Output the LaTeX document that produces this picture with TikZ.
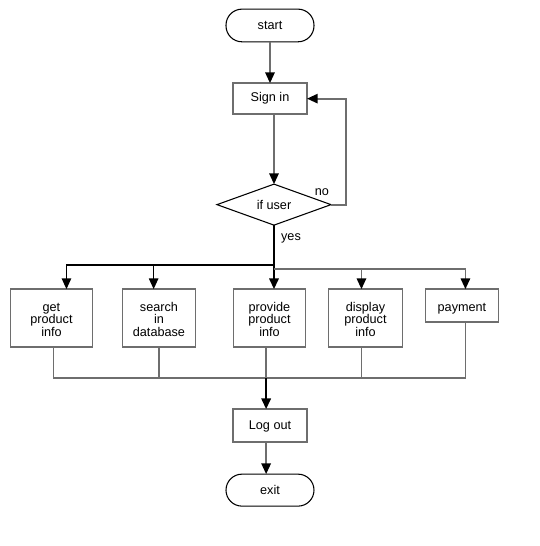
\documentclass[tikz,border=0pt]{standalone}
\usepackage{fontspec}
\setmainfont{Liberation Sans}
\usepackage{xcolor}
\usepackage{tikz}
\usetikzlibrary{arrows.meta,positioning,shapes.geometric}
\definecolor{linegray}{HTML}{6E6E6E}

\begin{document}
\lineskiplimit=-6pt
\begin{tikzpicture}[
  font={\fontsize{9.5pt}{9.2pt}\selectfont\lineskiplimit=-6pt},
  every node/.style={outer sep=0pt},
  term/.style={draw=black,line width=0.8pt,rounded corners=12pt,minimum width=66pt,minimum height=24.5pt},
  proc/.style={draw=linegray,line width=1.3pt,align=center,minimum width=55.5pt,minimum height=23.25pt},
  tallproc/.style={proc,minimum height=43.5pt,text height=27pt,text depth=0pt},
  decision/.style={diamond,draw=black,line width=0.8pt,aspect=2.8,inner sep=0pt,minimum width=85.5pt,minimum height=30.75pt},
  lbl/.style={inner sep=0pt},
  arr/.style={-{Triangle[length=8pt,width=7pt,color=black]}},
  flow/.style={draw=linegray,line width=1.3pt},
  yes/.style={draw=black,line width=1.6pt},
  yesthin/.style={draw=black,line width=1.1pt}
]
\path[fill=white,use as bounding box] (-202.5pt,19.1pt) rectangle (201.75pt,-390.4pt);

\node[term] (start) at (0,0) {start};
\node[proc,below=31pt of start] (signin) {Sign in};
\node[decision,below=52.5pt of signin,xshift=3pt] (ifuser) {if user};
\node[tallproc,minimum width=54pt,below=48pt of ifuser,xshift=-3.4pt] (provide) {provide\\product\\info};
\node[tallproc,minimum width=54.75pt,left=28.5pt of provide] (search) {search\\in\\database};
\node[tallproc,minimum width=61.5pt,left=22.5pt of search] (get) {get\\product\\info};
\node[tallproc,right=17.25pt of provide] (display) {display\\product\\info};
\node[proc,minimum width=54.75pt,minimum height=24.75pt,text height=9pt,text depth=0pt,right=17.25pt of display.north east,anchor=north west] (payment) {payment};
\node[proc,minimum height=24.75pt,text depth=0pt,below=46.5pt of provide,xshift=0.4pt] (logout) {Log out};
\node[term,minimum height=24pt,below=24pt of logout] (exit) {exit};

\node[lbl] (nolbl) at ([shift={(-6.75pt,9pt)}]ifuser.east) {no};
\node[lbl] (yeslbl) at ([shift={(12.75pt,-10pt)}]ifuser.south) {yes};

% sign in and the loop back
\draw[flow,arr] (start) -- (signin);
\draw[flow,arr] (ifuser.north |- signin.south) -- (ifuser);
\draw[flow,arr] (ifuser.east) -- ++(11.25pt,0) |- (signin.east);

% yes branch
\path (ifuser.south) ++(0,-30pt) coordinate (busl) ++(0,-3pt) coordinate (busr);
\draw[yes,arr] (ifuser.south) -- (ifuser.south |- provide.north);
\draw[yesthin,arr] (busl) -| ([xshift=11.25pt]get.north);
\draw[yesthin,arr] (busl) -| ([xshift=-4pt]search.north);
\draw[flow,arr] (busr) -| ([xshift=-3pt]display.north);
\draw[flow,arr] (busr) -| ([xshift=2.6pt]payment.north);

% join to log out
\path (provide.south) ++(-2.5pt,-23.25pt) coordinate (busb);
\draw[flow] ([xshift=1.5pt]get.south) |- (busb);
\draw[flow] (search.south) |- (busb);
\draw[flow] ([xshift=-2.5pt]provide.south) -- (busb);
\draw[flow] ([xshift=-3pt]display.south) |- (busb);
\draw[flow] ([xshift=2.6pt]payment.south) |- (busb);
\draw[yes,arr] (busb) -- (busb |- logout.north);
\draw[flow,arr] (logout.south -| busb) -- (busb |- exit.north);
\end{tikzpicture}
\end{document}
